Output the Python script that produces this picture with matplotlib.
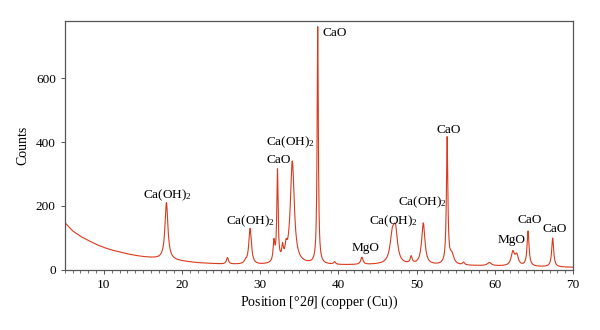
import numpy as np
import matplotlib.pyplot as plt
from matplotlib.ticker import MultipleLocator

plt.rcParams['font.family'] = ['Liberation Serif', 'DejaVu Serif']
plt.rcParams['mathtext.fontset'] = 'custom'
plt.rcParams['mathtext.rm'] = 'Liberation Serif'
plt.rcParams['mathtext.it'] = 'Liberation Serif:italic'

# background (2theta, counts)
bg_pos = [5, 6, 7, 8, 9, 10, 11, 12, 13, 14, 15, 16, 17, 19, 20, 22, 25, 28,
          30, 32, 35, 38, 40, 45, 50, 55, 60, 65, 70]
bg_cnt = [148, 122, 105, 92, 80, 70, 62, 56, 50, 45, 41, 38, 35, 30, 27, 22,
          18, 16, 15, 16, 18, 16, 15, 16, 15, 14, 12, 10, 8]

# peaks: position, height above background, FWHM
pk_pos = [18.0, 25.8, 28.1, 28.7, 31.75, 32.2, 32.85, 33.3, 34.1, 37.35,
          39.5, 43.0, 46.9, 47.3, 49.3, 50.85, 53.9, 54.5, 56.0, 59.3,
          62.3, 62.8, 64.25, 67.4]
pk_h = [178, 20, 8, 112, 62, 285, 40, 35, 320, 750,
        8, 22, 85, 90, 22, 130, 395, 30, 8, 10,
        42, 32, 110, 90]
pk_w = [0.45, 0.3, 0.3, 0.4, 0.25, 0.2, 0.25, 0.3, 0.6, 0.18,
        0.3, 0.35, 0.7, 0.6, 0.3, 0.5, 0.22, 0.6, 0.3, 0.6,
        0.5, 0.5, 0.3, 0.3]

labels = ['Ca(OH)$_2$', 'Ca(OH)$_2$', 'Ca(OH)$_2$', 'CaO', 'CaO', 'MgO',
          'Ca(OH)$_2$', 'Ca(OH)$_2$', 'CaO', 'MgO', 'CaO', 'CaO']
lab_x = [18.1, 28.7, 33.8, 32.3, 39.5, 43.5, 47.0, 50.8, 54.1, 62.1, 64.4, 67.6]
lab_y = [235, 151, 398, 344, 742, 68, 151, 213, 437, 94, 156, 128]

tt = np.arange(5, 70.001, 0.02)
counts = np.interp(tt, bg_pos, bg_cnt)
for p, h, w in zip(pk_pos, pk_h, pk_w):
    g = (w / 2) ** 2
    counts = counts + h * g / ((tt - p) ** 2 + g)

fig = plt.figure(figsize=(6, 3.3), dpi=100)
ax = fig.add_axes([0.108, 0.182, 0.847, 0.754])
ax.plot(tt, counts, color='#d93a1e', lw=0.8)

for t, x, y in zip(labels, lab_x, lab_y):
    ax.text(x, y, t, ha='center', va='center', fontsize=9.5)

ax.set_xlim(5, 70)
ax.set_ylim(0, 778)
ax.xaxis.set_major_locator(MultipleLocator(10))
ax.xaxis.set_minor_locator(MultipleLocator(1))
ax.yaxis.set_major_locator(MultipleLocator(200))
ax.tick_params(labelsize=9.5, width=0.7, length=3, color='#555555')
ax.tick_params(which='minor', width=0.6, length=2, color='#555555')
for s in ax.spines.values():
    s.set_color('#555555')
    s.set_linewidth(0.9)
ax.set_xlabel(r'Position [°2$\mathit{\theta}$] (copper (Cu))', fontsize=10, labelpad=2)
ax.set_ylabel('Counts', fontsize=10, labelpad=5)

fig.savefig('out.png', dpi=100)
